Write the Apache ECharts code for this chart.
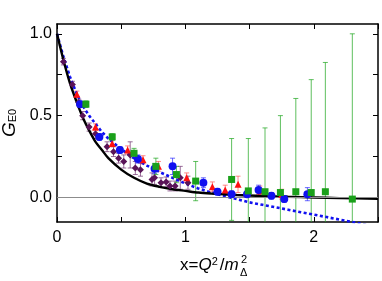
<!DOCTYPE html>
<html>
<head>
<meta charset="utf-8">
<script src="https://cdn.jsdelivr.net/npm/echarts@6/dist/echarts.min.js"></script>
<style>html,body{margin:0;padding:0;background:#fff}#c{width:382px;height:281px}</style>
</head>
<body>
<div id="c"></div>
<script>
// ---- data ----
const curveX      = [0,0.05,0.1,0.15,0.2,0.25,0.3,0.35,0.4,0.5,0.6,0.7,0.8,0.9,1.0,1.1,1.2,1.4,1.6,1.8,2.0,2.2,2.5];
const blackCurve  = [1,0.84,0.70,0.59,0.49,0.41,0.34,0.29,0.24,0.17,0.12,0.085,0.065,0.05,0.04,0.03,0.024,0.015,0.009,0.004,0.0,-0.004,-0.008];
const dottedX     = [0,0.05,0.1,0.15,0.2,0.25,0.3,0.35,0.4,0.5,0.6,0.7,0.8,0.9,1.0,1.1,1.2,1.3,1.4,1.5,1.6,1.7,1.8,1.9,2.0,2.1,2.2,2.3,2.4,2.5];
const dottedCurve = [1,0.86,0.74,0.64,0.56,0.50,0.45,0.40,0.36,0.295,0.24,0.195,0.155,0.12,0.085,0.055,0.03,0.01,-0.01,-0.03,-0.045,-0.06,-0.075,-0.09,-0.105,-0.12,-0.135,-0.15,-0.165,-0.18];

const purpleX   = [0.05,0.12,0.17,0.20,0.25,0.30,0.39,0.44,0.48,0.52,0.57,0.61,0.65,0.74,0.76,0.81,0.85,0.88,0.92,0.96,1.02];
const purpleY   = [0.83,0.69,0.58,0.50,0.43,0.39,0.31,0.28,0.24,0.22,0.26,0.18,0.17,0.11,0.12,0.09,0.095,0.07,0.07,0.12,0.09];
const purpleErr = [0.02,0.02,0.02,0.025,0.025,0.03,0.03,0.03,0.03,0.04,0.08,0.04,0.04,0.04,0.04,0.03,0.03,0.03,0.03,0.07,0.04];

const redX   = [0.155,0.30,0.43,0.55,0.67,0.79,1.01,1.21,1.31,1.41,1.58,1.75];
const redY   = [0.63,0.43,0.33,0.29,0.23,0.19,0.12,0.065,0.045,0.08,0.04,0.02];
const redErr = [0.02,0.02,0.02,0.025,0.025,0.03,0.03,0.03,0.03,0.05,0.03,0.03];

const blueX   = [0.18,0.33,0.49,0.63,0.76,0.90,1.14,1.25,1.36,1.48,1.57,1.67,1.77,1.95];
const blueY   = [0.57,0.37,0.29,0.235,0.175,0.19,0.09,0.035,0.02,0.02,0.045,0.01,-0.01,0.02];
const blueErr = [0.02,0.02,0.02,0.025,0.03,0.05,0.03,0.02,0.02,0.02,0.03,0.02,0.02,0.04];

const greenX   = [0.225,0.43,0.60,0.77,0.93,1.08,1.36,1.49,1.62,1.74,1.86,1.98,2.09,2.30];
const greenY   = [0.57,0.37,0.27,0.19,0.14,0.10,0.11,0.04,0.035,0.03,0.035,0.03,0.035,-0.01];
const greenErr = [0.02,0.02,0.03,0.05,0.05,0.12,0.25,0.32,0.39,0.47,0.57,0.69,0.79,1.01];

const xTickValues  = [0,0.5,1,1.5,2,2.5];
const xLabelValues = [0,1,2];
const yTickValues  = [0,0.25,0.5,0.75,1.0];
const yLabelValues = [0,0.5,1.0];

// ---- build ----
const zip = (a,b,c) => a.map((v,i)=> c ? [v,b[i],c[i]] : [v,b[i]]);
const FONT = 'Liberation Sans';

function errSeries(data, color){
  return {
    type:'custom', data:data, clip:true, z:2, silent:true,
    renderItem(params, api){
      const x=api.value(0), y=api.value(1), e=api.value(2);
      const t=api.coord([x,y+e]), b=api.coord([x,y-e]); const cw=2.5;
      const st={stroke:color, lineWidth:1};
      return {type:'group', children:[
        {type:'line', shape:{x1:t[0],y1:t[1],x2:b[0],y2:b[1]}, style:st},
        {type:'line', shape:{x1:t[0]-cw,y1:t[1],x2:t[0]+cw,y2:t[1]}, style:st},
        {type:'line', shape:{x1:b[0]-cw,y1:b[1],x2:b[0]+cw,y2:b[1]}, style:st}
      ]};
    }
  };
}
function markSeries(data, color, symbol, size){
  return {type:'scatter', data:data, symbol:symbol, symbolSize:size, z:5, silent:true,
    itemStyle:{color:color, opacity:1}};
}

const axisCommon = {
  axisLine:{show:true, onZero:false, lineStyle:{color:'#000', width:1.5}},
  splitLine:{show:false}
};

const chart = echarts.init(document.getElementById('c'), null, {renderer:'canvas'});
chart.setOption({
  animation:false,
  backgroundColor:'#fff',
  grid:{left:57, right:4, top:24, bottom:59, containLabel:false, outerBoundsMode:'none'},
  xAxis:[
    Object.assign({type:'value', min:0, max:2.5, position:'bottom',
      axisTick:{inside:true, length:5, customValues:xTickValues, lineStyle:{color:'#000', width:1}},
      axisLabel:{customValues:xLabelValues, margin:8, color:'#000', fontSize:16, fontFamily:FONT,
        formatter:v=>String(Math.round(v))}}, axisCommon),
    Object.assign({type:'value', min:0, max:2.5, position:'top',
      axisTick:{inside:true, length:5, customValues:xTickValues, lineStyle:{color:'#000', width:1}},
      axisLabel:{show:false}}, axisCommon)
  ],
  yAxis:[
    Object.assign({type:'value', min:-0.15, max:1.06, position:'left',
      axisTick:{inside:true, length:5, customValues:yTickValues, lineStyle:{color:'#000', width:1}},
      axisLabel:{customValues:yLabelValues, margin:5, color:'#000', fontSize:16, fontFamily:FONT,
        formatter:v=>v.toFixed(1)},
      name:'{g|G}{s|E0}', nameLocation:'middle', nameGap:37, nameRotate:90,
      nameTextStyle:{rich:{
        g:{fontSize:19, fontStyle:'italic', fontFamily:FONT, color:'#000'},
        s:{fontSize:11, fontFamily:FONT, color:'#000', verticalAlign:'bottom'}
      }}}, axisCommon),
    Object.assign({type:'value', min:-0.15, max:1.06, position:'right',
      axisTick:{inside:true, length:5, customValues:yTickValues, lineStyle:{color:'#000', width:1}},
      axisLabel:{show:false}}, axisCommon)
  ],
  graphic:[
    {type:'text', left:180, top:256, z:10, style:{
      text:'{n|x=}{i|Q}{p|2}{n|/}{i|m}',
      rich:{
        n:{fontSize:17, fontFamily:FONT, fill:'#000'},
        i:{fontSize:17, fontFamily:FONT, fontStyle:'italic', fill:'#000'},
        p:{fontSize:11, fontFamily:FONT, fill:'#000', verticalAlign:'top', padding:[0,2,8,0]}
      }}},
    {type:'text', left:241, top:254, z:10, style:{text:'2', fontSize:11, fontFamily:FONT, fill:'#000'}},
    {type:'text', left:240, top:267, z:10, style:{text:'Δ', fontSize:11, fontFamily:FONT, fill:'#000'}}
  ],
  series:[
    {type:'line', data:[], markLine:{silent:true, symbol:'none', label:{show:false},
      lineStyle:{color:'#8c8c8c', width:1, type:'solid'}, data:[{yAxis:0}]}},
    errSeries(zip(purpleX,purpleY,purpleErr), 'rgba(120,60,120,0.75)'),
    errSeries(zip(redX,redY,redErr), 'rgba(255,60,60,0.6)'),
    errSeries(zip(blueX,blueY,blueErr), 'rgba(40,40,255,0.7)'),
    errSeries(zip(greenX,greenY,greenErr), 'rgba(40,170,40,0.75)'),
    {type:'line', data:zip(dottedX,dottedCurve), symbol:'none', z:3, silent:true, clip:true,
      lineStyle:{color:'#1010f0', width:2.6, type:[3,2.5]}},
    {type:'line', data:zip(curveX,blackCurve), symbol:'none', z:4, silent:true, clip:true, smooth:0.3,
      lineStyle:{color:'#000', width:2.4}},
    markSeries(zip(purpleX,purpleY), '#5a1458', 'diamond', 7),
    markSeries(zip(redX,redY), '#ff1010', 'triangle', 7),
    markSeries(zip(blueX,blueY), '#1010f0', 'circle', 8),
    markSeries(zip(greenX,greenY), '#1aa01a', 'rect', 7)
  ]
});
</script>
</body>
</html>
